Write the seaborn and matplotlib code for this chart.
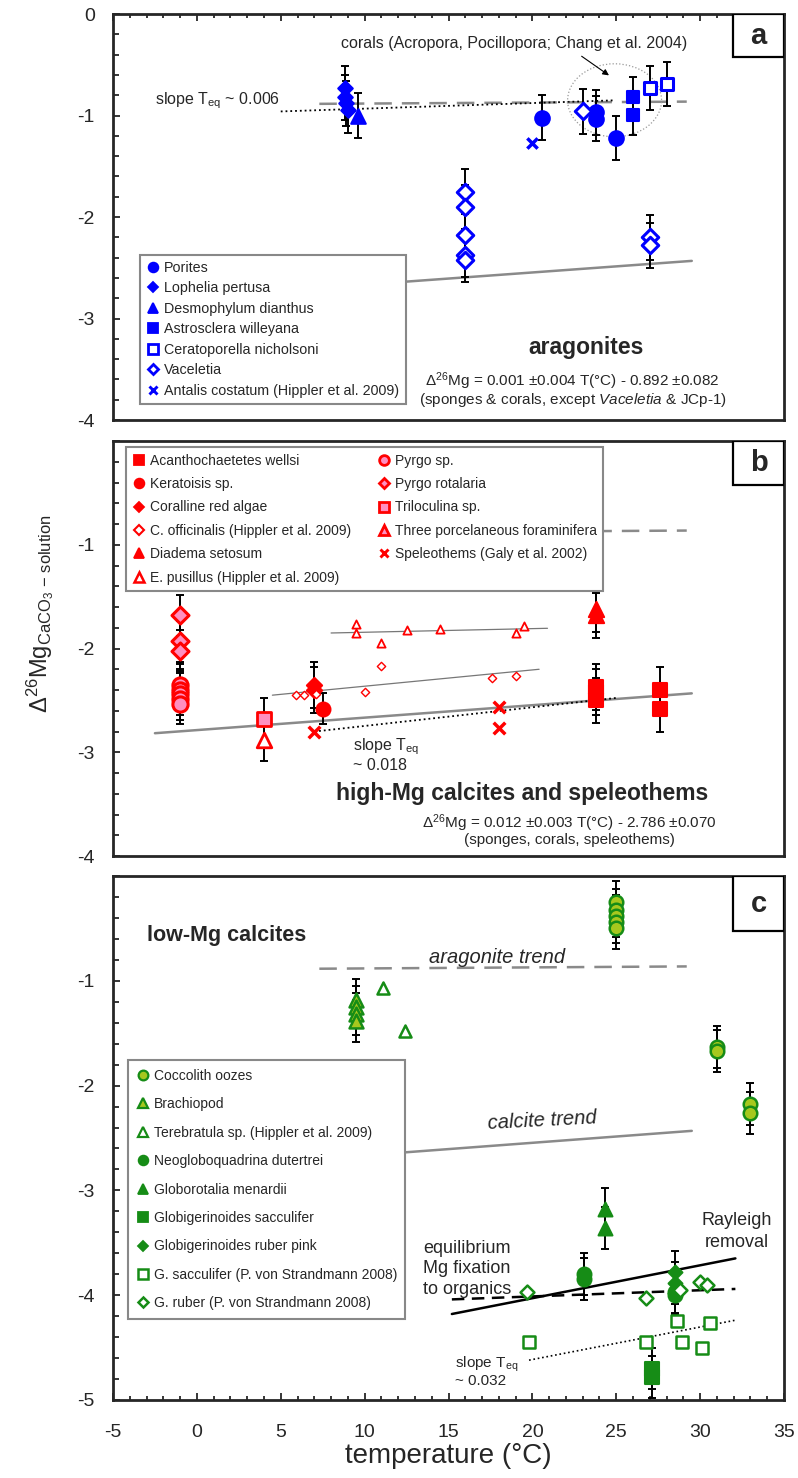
import numpy as np
import seaborn as sns
import matplotlib.pyplot as plt
from matplotlib.lines import Line2D
from matplotlib.patches import Ellipse, Rectangle

#%% data - panel a (aragonites)
por_t = [20.6, 23.8, 23.8, 25.0]
por_v = [-1.02, -0.97, -1.03, -1.22]
lop_t = [8.8, 8.8, 8.9, 9.0]
lop_v = [-0.73, -0.82, -0.88, -0.95]
des_t = [9.6]
des_v = [-1.0]
ast_t = [26.0, 26.0]
ast_v = [-0.82, -0.99]
cer_t = [27.0, 28.0]
cer_v = [-0.73, -0.69]
vac_t = [16.0, 16.0, 16.0, 16.0, 16.0, 23.0, 27.0, 27.0]
vac_v = [-1.75, -1.90, -2.18, -2.37, -2.42, -0.96, -2.20, -2.28]
ant_t = [20.0]
ant_v = [-1.27]

#%% data - panel b (high-Mg calcites)
aca_t = [23.8, 23.8, 23.8, 27.6, 27.6]
aca_v = [-2.37, -2.42, -2.50, -2.40, -2.58]
ker_t = [7.5]
ker_v = [-2.58]
cor_t = [7.0, 7.0]
cor_v = [-2.35, -2.40]
cof_t = [5.9, 6.4, 7.1, 10.0, 11.0, 17.6, 19.0]
cof_v = [-2.45, -2.45, -2.44, -2.42, -2.17, -2.28, -2.26]
dia_t = [23.8, 23.8]
dia_v = [-1.62, -1.68]
epu_t = [9.5, 9.5, 11.0, 12.5, 14.5, 19.0, 19.5]
epu_v = [-1.76, -1.85, -1.95, -1.82, -1.81, -1.85, -1.78]
pyr_t = [-1.0, -1.0, -1.0, -1.0, -1.0]
pyr_v = [-2.35, -2.40, -2.44, -2.49, -2.53]
pro_t = [-1.0, -1.0, -1.0]
pro_v = [-1.68, -1.93, -2.02]
tri_t = [4.0]
tri_v = [-2.68]
tpf_t = [4.0]
tpf_v = [-2.88]
spe_t = [7.0, 18.0, 18.0]
spe_v = [-2.80, -2.56, -2.77]

#%% data - panel c (low-Mg calcites)
coc_t = [25.0, 25.0, 25.0, 25.0, 25.0, 31.0, 31.0, 33.0, 33.0]
coc_v = [-0.25, -0.32, -0.38, -0.44, -0.50, -1.63, -1.67, -2.18, -2.26]
bra_t = [9.5, 9.5, 9.5, 9.5]
bra_v = [-1.18, -1.25, -1.32, -1.38]
ter_t = [11.1, 12.4]
ter_v = [-1.07, -1.48]
neo_t = [23.1, 23.1, 28.5, 28.5]
neo_v = [-3.80, -3.85, -3.97, -4.00]
men_t = [24.3, 24.3]
men_v = [-3.18, -3.36]
sac_t = [27.1, 27.1]
sac_v = [-4.70, -4.78]
rub_t = [28.5, 28.5, 28.5]
rub_v = [-3.78, -3.88, -3.98]
sacp_t = [19.8, 26.8, 28.6, 28.9, 30.1, 30.6]
sacp_v = [-4.45, -4.45, -4.25, -4.45, -4.50, -4.27]
rubp_t = [19.7, 26.8, 28.8, 30.0, 30.4]
rubp_v = [-3.97, -4.03, -3.95, -3.87, -3.90]

# trend lines (temperature ends)
line_t = [-2.5, 29.5]
arag_t = [7.3, 29.2]

#%% style
sns.set_theme(style='ticks')
plt.rcParams['font.family'] = ['Liberation Sans', 'DejaVu Sans']
plt.rcParams['mathtext.fontset'] = 'custom'
plt.rcParams['mathtext.rm'] = 'Liberation Sans'
plt.rcParams['mathtext.it'] = 'Liberation Sans:italic'
plt.rcParams['mathtext.bf'] = 'Liberation Sans:bold'
plt.rcParams['axes.unicode_minus'] = False

BLUE = '#0000ff'
RED = '#ff0000'
PINK = '#ff8fc0'
GREEN = '#168c16'
YG = '#a6c81e'
GRAY = '#8a8a8a'

fig = plt.figure(figsize=(7.98, 14.78), dpi=100)
axa = fig.add_axes([0.1416, 0.7158, 0.8409, 0.2747])
axb = fig.add_axes([0.1416, 0.4208, 0.8409, 0.2808])
axc = fig.add_axes([0.1416, 0.0528, 0.8409, 0.3545])


def pts(ax, t, v, marker, s, face, edge, lw=1.5, err=None, z=4):
    if err is not None:
        ax.errorbar(t, v, yerr=err, fmt='none', ecolor='black', elinewidth=1.4,
                    capsize=3, capthick=1.4, zorder=2)
    if marker == 'x':
        sns.scatterplot(x=t, y=v, marker='x', s=s, color=edge, linewidth=lw,
                        ax=ax, zorder=z, legend=False)
    else:
        sns.scatterplot(x=t, y=v, marker=marker, s=s, color=face, edgecolor=edge,
                        linewidth=lw, ax=ax, zorder=z, legend=False)


def trend(ax, t0, t1, slope, icpt, **kw):
    tt = np.array([t0, t1])
    sns.lineplot(x=tt, y=slope * tt + icpt, ax=ax, **kw)


def frame(ax, ymin, letter, show0):
    ax.set_xlim(-5, 35)
    ax.set_ylim(ymin, 0)
    ax.set_xticks(np.arange(-5, 36, 5))
    ax.set_xticks(np.arange(-5, 36, 1), minor=True)
    yt = np.arange(ymin, 0.1, 1)
    ax.set_yticks(yt)
    ax.set_yticklabels(['%d' % y if (y != 0 or show0) else '' for y in yt])
    ax.set_yticks(np.arange(ymin, 0.01, 0.2), minor=True)
    ax.tick_params(axis='y', which='both', direction='in', right=False,
                   labelsize=14, width=1.3, pad=13)
    ax.tick_params(axis='y', which='major', length=5)
    ax.tick_params(axis='y', which='minor', length=4)
    for sp in ax.spines.values():
        sp.set_linewidth(2)
        sp.set_visible(True)
    ax.set_xlabel('')
    ax.set_ylabel('')
    ax.add_patch(Rectangle((0.924, 0.895), 0.076, 0.105, transform=ax.transAxes,
                           facecolor='white', edgecolor='black', lw=1.6, zorder=6))
    ax.text(0.962, 0.947, letter, transform=ax.transAxes, ha='center', va='center',
            fontsize=21, fontweight='bold', zorder=7)


def leg_handle(marker, face, edge, ms=7, mew=1.3):
    if marker == 'x':
        return Line2D([], [], marker='x', linestyle='none', color=edge,
                      markersize=ms, markeredgewidth=mew + 0.8)
    return Line2D([], [], marker=marker, linestyle='none', markerfacecolor=face,
                  markeredgecolor=edge, markersize=ms, markeredgewidth=mew)


def legend(ax, handles, labels, anchor, spacing, size=10, **kw):
    lg = ax.legend(handles, labels, loc='upper left', bbox_to_anchor=anchor,
                   fontsize=size, frameon=True, fancybox=False, edgecolor='#888888',
                   framealpha=1, labelspacing=spacing, handlelength=0.9,
                   handletextpad=0.35, borderaxespad=0, **kw)
    lg.get_frame().set_linewidth(1.5)
    lg.set_zorder(5)


#%% panel a
ax = axa
trend(ax, arag_t[0], arag_t[1], 0.001, -0.892, color=GRAY, lw=1.8,
      linestyle=(0, (7, 4)), zorder=1)
trend(ax, line_t[0], line_t[1], 0.012, -2.786, color=GRAY, lw=1.8, zorder=1)
trend(ax, 5.0, 24.9, 0.0055, -0.987, color='black', lw=1.3, linestyle=':', zorder=1)
ax.add_patch(Ellipse((24.9, -0.85), 5.6, 0.72, fill=False, edgecolor='#999999',
                     linestyle=':', lw=0.9, zorder=1))
ax.annotate('', xy=(24.7, -0.62), xytext=(22.8, -0.40),
            arrowprops=dict(arrowstyle='-|>', color='black', lw=0.8, mutation_scale=9))
pts(ax, lop_t, lop_v, 'D', 55, BLUE, BLUE, err=0.22)
pts(ax, des_t, des_v, '^', 110, BLUE, BLUE, err=0.22)
pts(ax, por_t, por_v, 'o', 110, BLUE, BLUE, err=0.22)
pts(ax, ast_t, ast_v, 's', 80, BLUE, BLUE, err=0.2)
pts(ax, cer_t, cer_v, 's', 80, 'white', BLUE, lw=2.2, err=0.22)
pts(ax, vac_t, vac_v, 'D', 70, 'white', BLUE, lw=2.2, err=0.22)
pts(ax, ant_t, ant_v, 'x', 55, BLUE, BLUE, lw=2.5)
ax.text(-2.5, -0.85, r'slope T$_{\mathregular{eq}}$ ~ 0.006', fontsize=11.5, va='center')
ax.text(18.9, -0.29, 'corals (Acropora, Pocillopora; Chang et al. 2004)',
        fontsize=11.5, ha='center', va='center')
ax.text(23.2, -3.29, 'aragonites', fontsize=16.5, fontweight='bold', ha='center', va='center')
ax.text(22.4, -3.62, r'$\Delta^{26}$Mg = 0.001 $\pm$0.004 T(°C) - 0.892 $\pm$0.082',
        fontsize=11, ha='center', va='center')
ax.text(22.4, -3.80, r'(sponges & corals, except $\mathit{Vaceletia}$ & JCp-1)',
        fontsize=11, ha='center', va='center')
ha = [leg_handle('o', BLUE, BLUE), leg_handle('D', BLUE, BLUE, ms=5.5),
      leg_handle('^', BLUE, BLUE), leg_handle('s', BLUE, BLUE),
      leg_handle('s', 'white', BLUE, mew=2), leg_handle('D', 'white', BLUE, ms=5.5, mew=2),
      leg_handle('x', BLUE, BLUE, ms=6)]
la = ['Porites', 'Lophelia pertusa', 'Desmophylum dianthus', 'Astrosclera willeyana',
      'Ceratoporella nicholsoni', 'Vaceletia', 'Antalis costatum (Hippler et al. 2009)']
legend(ax, ha, la, (0.04, 0.4075), 0.45, size=10.3, borderpad=0.45)
frame(ax, -4, 'a', True)
ax.tick_params(axis='x', which='both', direction='in', top=True, bottom=False,
               labeltop=False, labelbottom=False, width=1.3)
ax.tick_params(axis='x', which='major', length=5)
ax.tick_params(axis='x', which='minor', length=3)

#%% panel b
ax = axb
trend(ax, arag_t[0], arag_t[1], 0.001, -0.892, color=GRAY, lw=1.8,
      linestyle=(0, (7, 4)), zorder=1)
trend(ax, line_t[0], line_t[1], 0.012, -2.786, color=GRAY, lw=1.8, zorder=1)
trend(ax, 7.0, 25.0, 0.018, -2.926, color='black', lw=1.3, linestyle=':', zorder=1)
trend(ax, 8.0, 20.9, 0.0035, -1.878, color='#777777', lw=0.9, zorder=1)
trend(ax, 4.5, 20.4, 0.0157, -2.52, color='#777777', lw=0.9, zorder=1)
pts(ax, pyr_t, pyr_v, 'o', 120, PINK, RED, lw=2.2, err=0.2)
pts(ax, pro_t, pro_v, 'D', 75, PINK, RED, lw=2.2, err=0.2)
pts(ax, tri_t, tri_v, 's', 95, PINK, RED, lw=2, err=0.2)
pts(ax, tpf_t, tpf_v, '^', 110, 'white', RED, lw=2, err=0.2)
pts(ax, cor_t, cor_v, 'D', 60, RED, RED, err=0.22)
pts(ax, ker_t, ker_v, 'o', 100, RED, RED, err=0.15)
pts(ax, aca_t, aca_v, 's', 90, RED, RED, err=0.22)
pts(ax, dia_t, dia_v, '^', 120, RED, RED, err=0.22)
pts(ax, cof_t, cof_v, 'D', 18, 'white', RED, lw=1)
pts(ax, epu_t, epu_v, '^', 35, 'white', RED, lw=1.3)
pts(ax, spe_t, spe_v, 'x', 70, RED, RED, lw=2.5)
ax.text(9.3, -2.95, r'slope T$_{\mathregular{eq}}$', fontsize=11.5, va='center')
ax.text(9.3, -3.13, '~ 0.018', fontsize=11.5, va='center')
ax.text(19.4, -3.40, 'high-Mg calcites and speleothems', fontsize=16.5,
        fontweight='bold', ha='center', va='center')
ax.text(22.2, -3.68, r'$\Delta^{26}$Mg = 0.012 $\pm$0.003 T(°C) - 2.786 $\pm$0.070',
        fontsize=11, ha='center', va='center')
ax.text(22.2, -3.85, '(sponges, corals, speleothems)', fontsize=11,
        ha='center', va='center')
hb = [leg_handle('s', RED, RED), leg_handle('o', RED, RED),
      leg_handle('D', RED, RED, ms=5.5), leg_handle('D', 'white', RED, ms=5.5, mew=1.5),
      leg_handle('^', RED, RED), leg_handle('^', 'white', RED, mew=1.8),
      leg_handle('o', PINK, RED, mew=2), leg_handle('D', PINK, RED, ms=5.5, mew=2),
      leg_handle('s', PINK, RED, mew=2), leg_handle('^', PINK, RED, mew=2),
      leg_handle('x', RED, RED, ms=6)]
lb = ['Acanthochaetetes wellsi', 'Keratoisis sp.', 'Coralline red algae',
      'C. officinalis (Hippler et al. 2009)', 'Diadema setosum',
      'E. pusillus (Hippler et al. 2009)', 'Pyrgo sp.', 'Pyrgo rotalaria',
      'Triloculina sp.', 'Three porcelaneous foraminifera',
      'Speleothems (Galy et al. 2002)']
legend(ax, hb, lb, (0.02, 0.985), 0.68, ncol=2, borderpad=0.45, columnspacing=1.9)
frame(ax, -4, 'b', False)
ax.tick_params(axis='x', which='both', bottom=False, top=False,
               labelbottom=False, labeltop=False)

#%% panel c
ax = axc
trend(ax, arag_t[0], arag_t[1], 0.001, -0.892, color=GRAY, lw=1.8,
      linestyle=(0, (7, 4)), zorder=1)
trend(ax, line_t[0], line_t[1], 0.012, -2.786, color=GRAY, lw=1.8, zorder=1)
trend(ax, 15.2, 32.1, 0.0314, -4.657, color='black', lw=1.8, zorder=1)
trend(ax, 15.2, 32.1, 0.0059, -4.130, color='black', lw=1.8,
      linestyle=(0, (5, 3)), zorder=1)
trend(ax, 19.8, 32.1, 0.031, -5.234, color='black', lw=1.2, linestyle=':', zorder=1)
pts(ax, coc_t, coc_v, 'o', 95, YG, GREEN, lw=1.8, err=0.2)
pts(ax, bra_t, bra_v, '^', 100, YG, GREEN, lw=1.8, err=0.2)
pts(ax, ter_t, ter_v, '^', 75, 'white', GREEN, lw=1.8)
pts(ax, neo_t, neo_v, 'o', 100, GREEN, GREEN, err=0.2)
pts(ax, men_t, men_v, '^', 100, GREEN, GREEN, err=0.2)
pts(ax, sac_t, sac_v, 's', 110, GREEN, GREEN, err=0.2)
pts(ax, rub_t, rub_v, 'D', 50, GREEN, GREEN, err=0.2)
pts(ax, sacp_t, sacp_v, 's', 70, 'white', GREEN, lw=1.8)
pts(ax, rubp_t, rubp_v, 'D', 50, 'white', GREEN, lw=1.8)
ax.text(-3.0, -0.57, 'low-Mg calcites', fontsize=15.5, fontweight='bold', va='center')
ax.text(17.9, -0.78, 'aragonite trend', fontsize=14.5, style='italic',
        ha='center', va='center')
ax.text(20.6, -2.33, 'calcite trend', fontsize=14.5, style='italic',
        ha='center', va='center', rotation=3)
ax.text(13.5, -3.55, 'equilibrium', fontsize=13, va='center')
ax.text(13.5, -3.75, 'Mg fixation', fontsize=13, va='center')
ax.text(13.5, -3.95, 'to organics', fontsize=13, va='center')
ax.text(32.2, -3.29, 'Rayleigh', fontsize=13, ha='center', va='center')
ax.text(32.2, -3.50, 'removal', fontsize=13, ha='center', va='center')
ax.text(15.4, -4.66, r'slope T$_{\mathregular{eq}}$', fontsize=11, va='center')
ax.text(15.4, -4.82, '~ 0.032', fontsize=11, va='center')
hc = [leg_handle('o', YG, GREEN, mew=1.6), leg_handle('^', YG, GREEN, mew=1.6),
      leg_handle('^', 'white', GREEN, mew=1.6), leg_handle('o', GREEN, GREEN),
      leg_handle('^', GREEN, GREEN), leg_handle('s', GREEN, GREEN),
      leg_handle('D', GREEN, GREEN, ms=5.5), leg_handle('s', 'white', GREEN, mew=1.8),
      leg_handle('D', 'white', GREEN, ms=5.5, mew=1.8)]
lc = ['Coccolith oozes', 'Brachiopod', 'Terebratula sp. (Hippler et al. 2009)',
      'Neogloboquadrina dutertrei', 'Globorotalia menardii',
      'Globigerinoides sacculifer', 'Globigerinoides ruber pink',
      'G. sacculifer (P. von Strandmann 2008)', 'G. ruber (P. von Strandmann 2008)']
legend(ax, hc, lc, (0.0225, 0.648), 1.04, borderpad=0.6)
frame(ax, -5, 'c', False)
ax.tick_params(axis='x', which='both', direction='in', bottom=True, top=False,
               labelbottom=True, labelsize=14, width=1.3, pad=17)
ax.tick_params(axis='x', which='major', length=5)
ax.tick_params(axis='x', which='minor', length=3)
ax.set_xlabel('temperature (°C)', fontsize=20, labelpad=2)

fig.text(0.05, 0.585, r'$\Delta^{26}$Mg$_{\mathregular{CaCO_3}\mathregular{\,-\,solution}}$',
         rotation=90, ha='center', va='center', fontsize=17)

fig.savefig('out.png', dpi=100)
